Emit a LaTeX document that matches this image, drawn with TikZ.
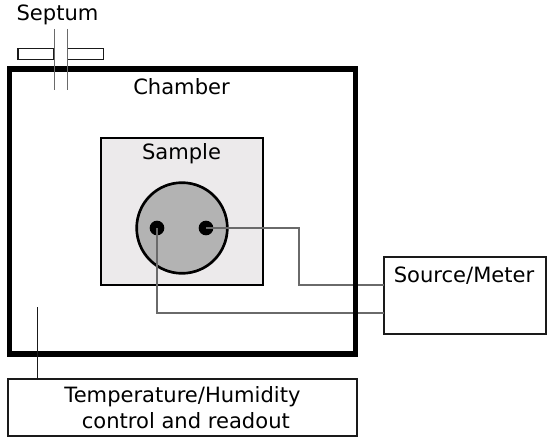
\documentclass[tikz,border=0pt]{standalone}
\usepackage{fontspec}
\setmainfont{DejaVu Sans}
\usepackage{xcolor}
\usetikzlibrary{calc}
\definecolor{SampleGray}{HTML}{ECEAEB}
\definecolor{DiscGray}{HTML}{B3B3B3}
\definecolor{WireGray}{HTML}{6A6A6A}
\definecolor{FrameDark}{HTML}{1A1A1A}
\tikzset{
  plainbox/.style={draw=FrameDark,line width=1.4pt,inner sep=0pt,outer sep=0pt,align=center,font=\fontsize{15.8}{20}\selectfont},
  chamberbox/.style={draw=black,line width=4.2pt,inner sep=0pt,outer sep=0pt,minimum width=259.5pt,minimum height=214pt},
  samplebox/.style={draw=black,line width=1.7pt,fill=SampleGray,inner sep=0pt,outer sep=0pt,minimum width=121.5pt,minimum height=110pt},
  septumbox/.style={draw=FrameDark,line width=1.2pt,fill=white,inner sep=0pt,outer sep=0pt,minimum width=27pt,minimum height=8.5pt},
  disc/.style={circle,draw=black,line width=2pt,fill=DiscGray,inner sep=0pt,outer sep=0pt,minimum size=68pt},
  contact/.style={circle,fill=black,inner sep=0pt,outer sep=0pt,minimum size=11pt},
  wire/.style={line width=0.85pt,draw=WireGray},
  thinlink/.style={line width=0.7pt,draw=FrameDark},
  caption/.style={inner sep=0pt,font=\fontsize{15.8}{18}\selectfont}
}
\begin{document}
\begin{tikzpicture}[x=0.75pt,y=-0.75pt]
\useasboundingbox (0,0) rectangle (550,442);
\node[samplebox] (sample) at (182,211.5) {};
\node[disc] (wafer) at (182,228) {};
\node[contact] (padl) at (157,228) {};
\node[contact] (padr) at (206,228) {};
\node[plainbox,minimum width=122pt,minimum height=57.5pt] (meter) at (465,295.5) {};
\node[plainbox,minimum width=262pt,minimum height=42.5pt] (control) at (182.5,407.5) {Temperature/Humidity\\\hspace*{5pt}control and readout};
\coordinate (inr) at (meter.west |- 0,285);
\coordinate (inl) at (meter.west |- 0,313);
\coordinate (bendr) at (299,285);
\coordinate (probe) at (37,307);
\draw[wire] (padr.center) -| (bendr) -- (inr);
\draw[wire] (padl.center) |- (inl);
\node[chamberbox] (chamber) at (182.5,211.5) {};
\draw[thinlink] (probe) -- (probe |- control.north);
\node[septumbox,anchor=east] (septl) at (54,54) {};
\node[septumbox,anchor=west] (septr) at (67.5,54) {};
\coordinate (needlel) at (54,29);
\coordinate (needler) at (67.5,29);
\draw[thinlink,draw=WireGray] (needlel) -- ++(0,61);
\draw[thinlink,draw=WireGray] (needler) -- ++(0,61);
\node[caption] (septumlabel) at (57.5,15) {Septum};
\node[caption] (chamberlabel) at (181.5,87) {Chamber};
\node[caption] (samplelabel) at (181.5,153.5) {Sample};
\node[caption] (meterlabel) at (464,276) {Source/Meter};
\end{tikzpicture}
\end{document}
